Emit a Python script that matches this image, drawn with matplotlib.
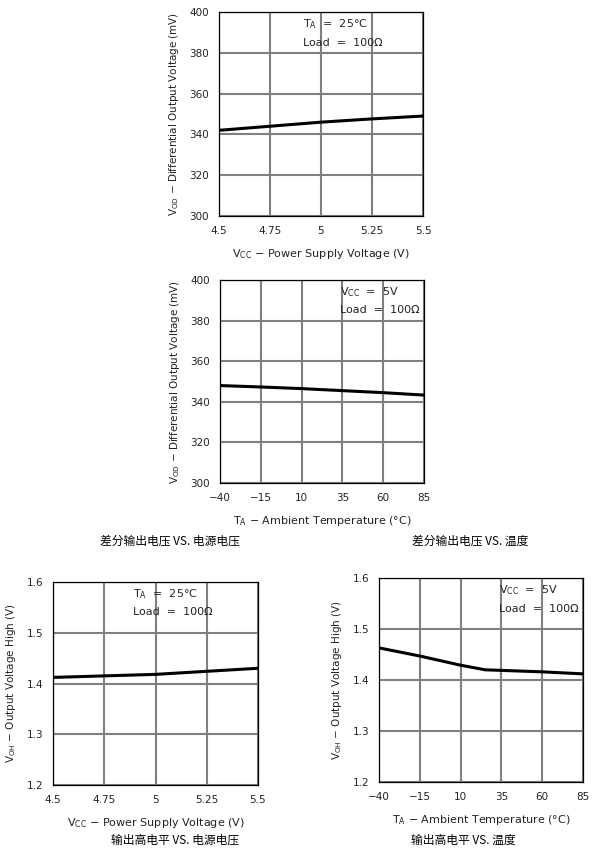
import matplotlib
matplotlib.use("Agg")
import matplotlib.pyplot as plt

plt.rcParams['font.family'] = ['DejaVu Sans', 'Noto Sans CJK SC']
plt.rcParams['mathtext.default'] = 'regular'

W, H = 607, 861

# data
vcc = [4.5, 4.75, 5.0, 5.25, 5.5]
temp = [-40, -15, 10, 35, 60, 85]
vod_vs_vcc = [342, 344, 346, 347.6, 349]
vod_vs_temp = [348, 347.3, 346.5, 345.5, 344.5, 343.3]
voh_vs_vcc = [1.412, 1.415, 1.418, 1.424, 1.430]
temp_voh = [-40, -15, 10, 25, 60, 85]
voh_vs_temp = [1.463, 1.447, 1.429, 1.420, 1.416, 1.412]

vcc_ticks = [4.5, 4.75, 5, 5.25, 5.5]
vcc_labels = ["4.5", "4.75", "5", "5.25", "5.5"]
temp_ticks = [-40, -15, 10, 35, 60, 85]
temp_labels = ["\u221240", "\u221215", "10", "35", "60", "85"]

fig = plt.figure(figsize=(W / 100, H / 100), dpi=100)


def make_ax(left, top, right, bottom):
    return fig.add_axes([left / W, 1 - bottom / H, (right - left) / W, (bottom - top) / H])


def style(ax, x, y, xlim, ylim, xticks, xlabels, yticks, ylabels, xlabel, ylabel, note, note_x):
    ax.plot(x, y, color='black', lw=2.2, zorder=3)
    ax.set_xlim(*xlim)
    ax.set_ylim(*ylim)
    ax.set_xticks(xticks)
    ax.set_xticklabels(xlabels)
    ax.set_yticks(yticks)
    ax.set_yticklabels(ylabels)
    ax.tick_params(length=0, labelsize=7.5, pad=7, colors='#222222')
    ax.grid(True, color='#808080', lw=1.5)
    for s in ax.spines.values():
        s.set_linewidth(0.9)
    ax.set_xlabel(xlabel, fontsize=8, labelpad=8, color='#222222')
    ax.set_ylabel(ylabel, fontsize=7.5, labelpad=6, color='#222222')
    ax.text(note_x, 0.94, note[0], transform=ax.transAxes, fontsize=8, va='center', color='#222222')
    ax.text(note_x, 0.85, note[1], transform=ax.transAxes, fontsize=8, va='center', color='#222222')


ax1 = make_ax(219, 12, 423, 216)
style(ax1, vcc, vod_vs_vcc, (4.5, 5.5), (300, 400), vcc_ticks, vcc_labels,
      [300, 320, 340, 360, 380, 400], ["300", "320", "340", "360", "380", "400"],
      r"V$_{CC}$ $-$ Power Supply Voltage (V)",
      r"V$_{OD}$ $-$ Differential Output Voltage (mV)",
      (r"T$_A$  =  25°C", "Load  =  100\u2126"), 0.41)

ax2 = make_ax(220, 280, 424, 483)
style(ax2, temp, vod_vs_temp, (-40, 85), (300, 400), temp_ticks, temp_labels,
      [300, 320, 340, 360, 380, 400], ["300", "320", "340", "360", "380", "400"],
      r"T$_A$ $-$ Ambient Temperature (°C)",
      r"V$_{OD}$ $-$ Differential Output Voltage (mV)",
      (r"V$_{CC}$  =  5V", "Load  =  100\u2126"), 0.59)

ax3 = make_ax(53, 582, 258, 785)
style(ax3, vcc, voh_vs_vcc, (4.5, 5.5), (1.2, 1.6), vcc_ticks, vcc_labels,
      [1.2, 1.3, 1.4, 1.5, 1.6], ["1.2", "1.3", "1.4", "1.5", "1.6"],
      r"V$_{CC}$ $-$ Power Supply Voltage (V)",
      r"V$_{OH}$ $-$ Output Voltage High (V)",
      (r"T$_A$  =  25°C", "Load  =  100\u2126"), 0.39)

ax4 = make_ax(379, 578, 583, 782)
style(ax4, temp_voh, voh_vs_temp, (-40, 85), (1.2, 1.6), temp_ticks, temp_labels,
      [1.2, 1.3, 1.4, 1.5, 1.6], ["1.2", "1.3", "1.4", "1.5", "1.6"],
      r"T$_A$ $-$ Ambient Temperature (°C)",
      r"V$_{OH}$ $-$ Output Voltage High (V)",
      (r"V$_{CC}$  =  5V", "Load  =  100\u2126"), 0.59)

cap = dict(fontsize=8.5, family=['Noto Sans CJK SC', 'DejaVu Sans'], ha='center', va='center')
fig.text(170 / W, 1 - 541 / H, "差分输出电压 VS. 电源电压", **cap)
fig.text(470 / W, 1 - 541 / H, "差分输出电压 VS. 温度", **cap)
fig.text(175 / W, 1 - 840 / H, "输出高电平 VS. 电源电压", **cap)
fig.text(463 / W, 1 - 840 / H, "输出高电平 VS. 温度", **cap)

fig.savefig("out.png", dpi=100, facecolor='white')
